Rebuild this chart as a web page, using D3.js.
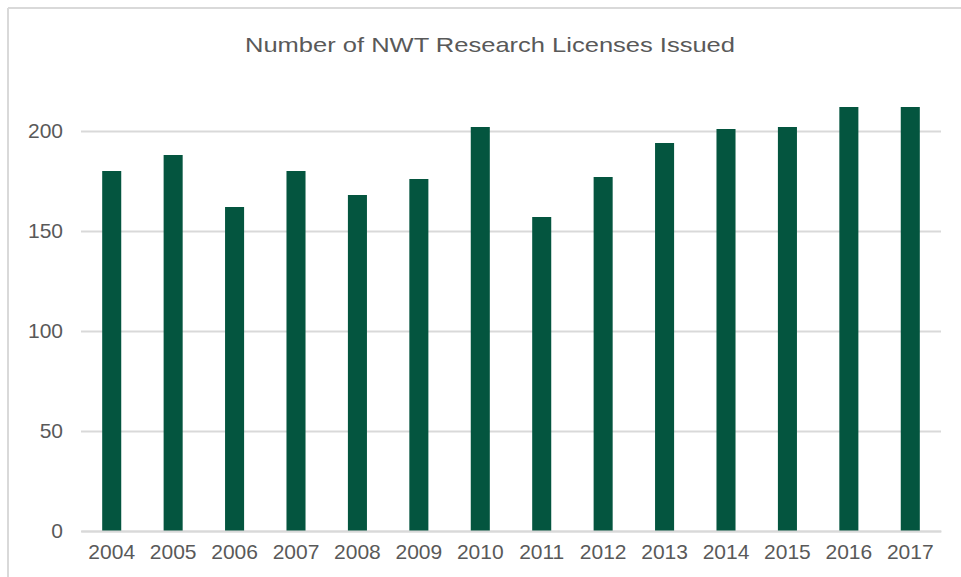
<!DOCTYPE html>
<html>
  <head>
    <title>NWT Research Licenses</title>
    <meta charset="utf-8">
    <style>
      body { margin: 0; background-color: #fff; }
      svg { display: block; }
      text { font-family: "Liberation Sans", Arial, sans-serif; fill: #595959; }
    </style>
    <script src="https://cdnjs.cloudflare.com/ajax/libs/d3/7.8.5/d3.min.js"></script>
  </head>
  <body>
    <div id="chart"></div>
    <script>
      var years = ['2004', '2005', '2006', '2007', '2008', '2009', '2010',
                   '2011', '2012', '2013', '2014', '2015', '2016', '2017'];
      var licenses = [180, 188, 162, 180, 168, 176, 202, 157, 177, 194, 201, 202, 212, 212];
      var yTicks = [0, 50, 100, 150, 200];

      var W = 961, H = 577;
      var plotLeft = 81, plotRight = 941, plotTop = 81, plotBottom = 531;

      var svg = d3.select('#chart').append('svg').attr('width', W).attr('height', H);

      // outer frame (only top and left edges are visible in the crop)
      svg.append('line').attr('x1', 8).attr('x2', W).attr('y1', 8).attr('y2', 8)
        .attr('stroke', '#d9d9d9').attr('stroke-width', 2);
      svg.append('line').attr('x1', 8).attr('x2', 8).attr('y1', 8).attr('y2', H)
        .attr('stroke', '#d9d9d9').attr('stroke-width', 2);

      var x = d3.scaleBand().domain(years).range([plotLeft, plotRight]).paddingInner(0.69).paddingOuter(0.345);
      var y = d3.scaleLinear().domain([0, 225]).range([plotBottom, plotTop]);

      svg.append('text').attr('x', 490).attr('y', 52).attr('text-anchor', 'middle')
        .style('font-size', '21px').attr('textLength', 490).attr('lengthAdjust', 'spacingAndGlyphs')
        .text('Number of NWT Research Licenses Issued');

      var yAxis = svg.append('g').attr('transform', 'translate(' + plotLeft + ',0)')
        .call(d3.axisLeft(y).tickValues(yTicks).tickSize(-(plotRight - plotLeft)).tickPadding(18));
      yAxis.select('.domain').remove();
      yAxis.selectAll('line').attr('stroke', '#d9d9d9').attr('stroke-width', 2);
      yAxis.selectAll('text').style('font-size', '21px').style('font-family', '"Liberation Sans", Arial, sans-serif')
        .attr('fill', '#595959');

      svg.selectAll('rect.bar').data(licenses).enter().append('rect')
        .attr('class', 'bar')
        .attr('x', function(d, i) { return x(years[i]); })
        .attr('width', x.bandwidth())
        .attr('y', function(d) { return y(d); })
        .attr('height', function(d) { return plotBottom - y(d); })
        .attr('fill', '#04553f');

      var xAxis = svg.append('g').attr('transform', 'translate(0,' + plotBottom + ')')
        .call(d3.axisBottom(x).tickSize(0).tickPadding(13));
      xAxis.select('.domain').attr('stroke', '#d9d9d9').attr('stroke-width', 2);
      xAxis.selectAll('text').style('font-size', '21px').style('font-family', '"Liberation Sans", Arial, sans-serif')
        .attr('fill', '#595959');
    </script>
  </body>
</html>
